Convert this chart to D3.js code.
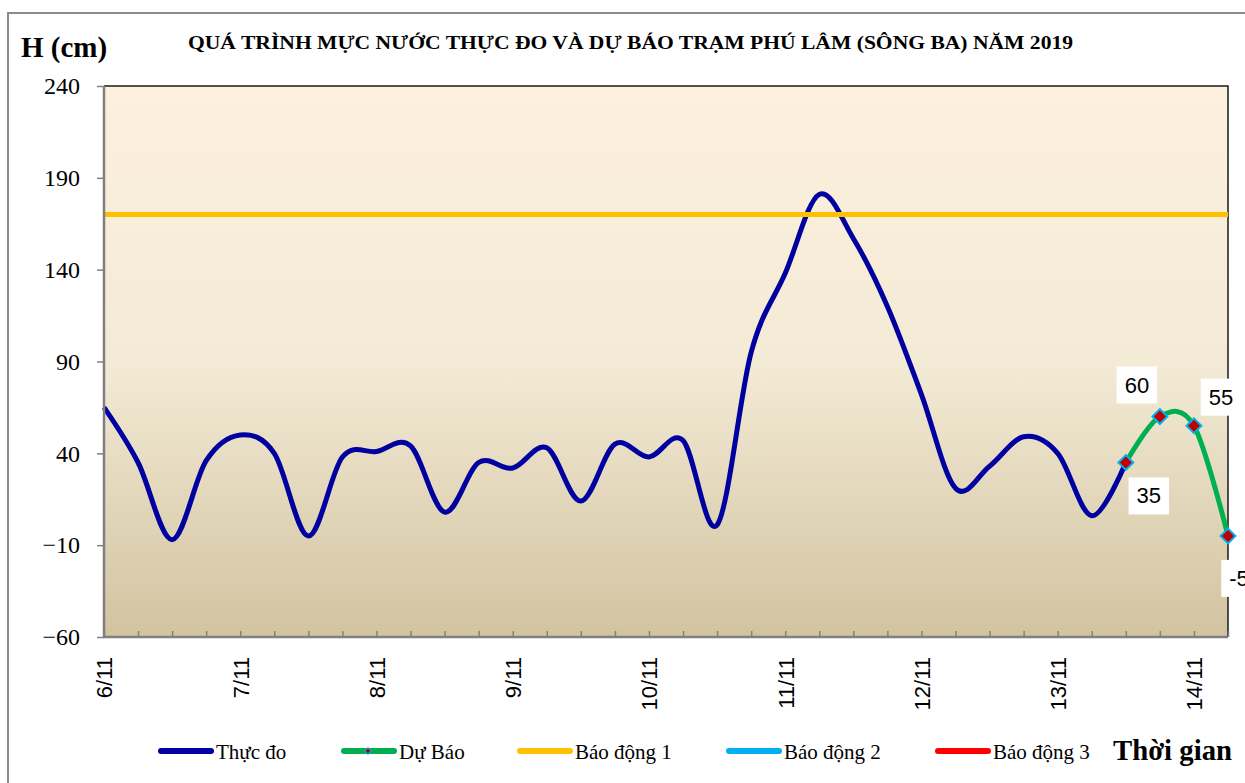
<!DOCTYPE html>
<html>
<head>
<meta charset="utf-8">
<script src="https://cdn.jsdelivr.net/npm/d3@7"></script>
<style>
  body { margin: 0; background: #fff; }
  svg { display: block; }
</style>
</head>
<body>
<div id="chart-area"></div>
<script>
// water level at Phu Lam, one value every 6 hours
var dayLabels = ['6/11', '7/11', '8/11', '9/11', '10/11', '11/11', '12/11', '13/11', '14/11']
var stepsPerDay = 4
var observed = [65, 35, -7, 36, 50, 40, -5, 38, 41, 44, 8, 35, 32, 43, 14, 45, 38, 47, 1,
                95, 138, 181, 157, 120, 72, 21, 33, 49, 40, 6, 35]
var forecastStart = 30
var forecast = [35, 60, 55, -5]
var alarmNames = ['Báo động 1', 'Báo động 2', 'Báo động 3']
var alarmLevels = [170, 270, 370]
var yTicks = [-60, -10, 40, 90, 140, 190, 240]

var title = 'QUÁ TRÌNH MỰC NƯỚC THỰC ĐO VÀ DỰ BÁO TRẠM  PHÚ LÂM (SÔNG BA) NĂM 2019'
var labelOffsets = [[23, 33], [-23, -32], [27, -29], [11, 42]]

var colors = { observed: '#0000a0', forecast: '#00b050', alarms: ['#ffc000', '#00b0f0', '#ff0000'] }
var serif = '"Liberation Serif", "Times New Roman", serif'
var sans = '"Liberation Sans", Arial, sans-serif'

var ab_width = 1245
var ab_height = 783
var margin = { left: 104, right: 17, top: 86, bottom: 146 }
var width = ab_width - margin.left - margin.right,
    height = ab_height - margin.top - margin.bottom;

var svg = d3.select('#chart-area')
  .append('svg')
  .attr('width', ab_width)
  .attr('height', ab_height)

var defs = svg.append('defs')
var grad = defs.append('linearGradient')
  .attr('id', 'bg').attr('x1', 0).attr('y1', 0).attr('x2', 0).attr('y2', 1)
grad.append('stop').attr('offset', '0%').attr('stop-color', '#fdf0dd')
grad.append('stop').attr('offset', '50%').attr('stop-color', '#f3ebd6')
grad.append('stop').attr('offset', '100%').attr('stop-color', '#d2c3a0')

// outer chart frame (only top & left are inside the picture)
svg.append('path')
  .attr('d', 'M8,' + ab_height + ' V13 H' + ab_width)
  .attr('fill', 'none').attr('stroke', '#8c8c8c').attr('stroke-width', 2)

var g = svg.append('g')
  .attr('transform', 'translate(' + margin.left + ', ' + margin.top + ')')

var lastIndex = forecastStart + forecast.length - 1

var x = d3.scaleLinear()
  .domain([0, lastIndex])
  .range([0, width])

var y = d3.scaleLinear()
  .domain([d3.min(yTicks), d3.max(yTicks)])
  .range([height, 0])

g.append('rect')
  .attr('width', width).attr('height', height)
  .attr('fill', 'url(#bg)')

// plot border top/right dark
g.append('path')
  .attr('d', 'M0,0 H' + width + ' V' + height)
  .attr('fill', 'none').attr('stroke', '#1a1a1a').attr('stroke-width', 1.5)

var line = d3.line()
  .x(function(d) { return x(d.i) })
  .y(function(d) { return y(d.v) })
  .curve(d3.curveCatmullRom.alpha(0))

var obsData = observed.map(function(v, i) { return { i: i, v: v } })
var fcData = forecast.map(function(v, i) { return { i: forecastStart + i, v: v } })

g.append('path')
  .datum(obsData)
  .attr('d', line)
  .attr('fill', 'none')
  .attr('stroke', colors.observed)
  .attr('stroke-width', 5)
  .attr('stroke-linejoin', 'round')

g.append('path')
  .datum(fcData)
  .attr('d', line)
  .attr('fill', 'none')
  .attr('stroke', colors.forecast)
  .attr('stroke-width', 5)
  .attr('stroke-linecap', 'round')

// alarm lines, only the ones inside the y range show
alarmLevels.forEach(function(lv, k) {
  if (lv > y.domain()[1]) return
  g.append('line')
    .attr('x1', 0).attr('x2', width)
    .attr('y1', y(lv)).attr('y2', y(lv))
    .attr('stroke', colors.alarms[k])
    .attr('stroke-width', 5)
})

var diamond = d3.symbol().type(d3.symbolSquare).size(110)
g.selectAll('.mk').data(fcData).enter()
  .append('path')
  .attr('class', 'mk')
  .attr('d', diamond)
  .attr('transform', function(d) { return 'translate(' + x(d.i) + ',' + y(d.v) + ') rotate(45)' })
  .attr('fill', '#c00000')
  .attr('stroke', '#00b0f0')
  .attr('stroke-width', 2)

// data labels with white boxes
fcData.forEach(function(d, k) {
  var lg = g.append('g')
    .attr('transform', 'translate(' + (x(d.i) + labelOffsets[k][0]) + ',' + (y(d.v) + labelOffsets[k][1]) + ')')
  var t = lg.append('text')
    .attr('text-anchor', 'middle')
    .attr('dy', '0.36em')
    .style('font-family', sans)
    .style('font-size', '22px')
    .attr('fill', '#000')
    .text(d.v)
  var bb = t.node().getBBox()
  lg.insert('rect', 'text')
    .attr('x', bb.x - 8).attr('y', bb.y - 6)
    .attr('width', bb.width + 16).attr('height', bb.height + 12)
    .attr('fill', '#fff')
})

// y axis
var yAxis = g.append('g')
  .call(d3.axisLeft(y).tickValues(yTicks).tickSize(7).tickPadding(17))
yAxis.select('.domain').remove()
yAxis.selectAll('line').attr('stroke', '#808080').attr('stroke-width', 1.5)
yAxis.selectAll('text')
  .style('font-family', serif)
  .style('font-size', '24px')
  .attr('fill', '#000')

// x axis: a tick every 6 hours, a label every day
var xAxis = g.append('g')
  .attr('transform', 'translate(0,' + height + ')')
  .call(d3.axisBottom(x)
    .tickValues(d3.range(0, lastIndex + 1))
    .tickSize(-6)
    .tickFormat(function(i) { return i % stepsPerDay === 0 ? dayLabels[i / stepsPerDay] : '' }))
xAxis.select('.domain').remove()
xAxis.selectAll('line').attr('stroke', '#808080').attr('stroke-width', 1.5)
xAxis.selectAll('text')
  .attr('transform', 'rotate(-90)')
  .attr('x', -20)
  .attr('y', 0)
  .attr('dy', '0.36em')
  .style('text-anchor', 'end')
  .style('font-family', sans)
  .style('font-size', '22px')
  .attr('fill', '#000')

// axis lines (grey) left & bottom
g.append('path')
  .attr('d', 'M0,0 V' + height + ' H' + width)
  .attr('fill', 'none').attr('stroke', '#808080').attr('stroke-width', 2.5)

// titles
svg.append('text')
  .attr('x', 21).attr('y', 57)
  .style('font-family', serif).style('font-weight', 'bold').style('font-size', '29px')
  .text('H (cm)')

svg.append('text')
  .attr('x', 188).attr('y', 49)
  .attr('textLength', 885).attr('lengthAdjust', 'spacingAndGlyphs')
  .style('font-family', serif).style('font-weight', 'bold').style('font-size', '19px')
  .text(title)

svg.append('text')
  .attr('x', 1113).attr('y', 760)
  .attr('textLength', 119).attr('lengthAdjust', 'spacingAndGlyphs')
  .style('font-family', serif).style('font-weight', 'bold').style('font-size', '29px')
  .text('Thời gian')

// legend
var legendItems = [
  { name: 'Thực đo', color: colors.observed, x: 158 },
  { name: 'Dự Báo', color: colors.forecast, x: 341, marker: true },
  { name: alarmNames[0], color: colors.alarms[0], x: 517 },
  { name: alarmNames[1], color: colors.alarms[1], x: 726 },
  { name: alarmNames[2], color: colors.alarms[2], x: 935 }
]
var leg = svg.selectAll('.leg').data(legendItems).enter()
  .append('g')
  .attr('class', 'leg')
  .attr('transform', function(d) { return 'translate(' + d.x + ',751)' })
leg.append('line')
  .attr('x1', 3).attr('x2', 53)
  .attr('stroke', function(d) { return d.color })
  .attr('stroke-width', 6)
  .attr('stroke-linecap', 'round')
leg.filter(function(d) { return d.marker })
  .append('path')
  .attr('d', d3.symbol().type(d3.symbolSquare).size(22))
  .attr('transform', 'translate(27,0) rotate(45)')
  .attr('fill', '#c00000')
  .attr('stroke', '#00b0f0')
  .attr('stroke-width', 1)
leg.append('text')
  .attr('x', 58).attr('y', 8)
  .style('font-family', serif)
  .style('font-size', '21px')
  .text(function(d) { return d.name })
</script>
</body>
</html>
